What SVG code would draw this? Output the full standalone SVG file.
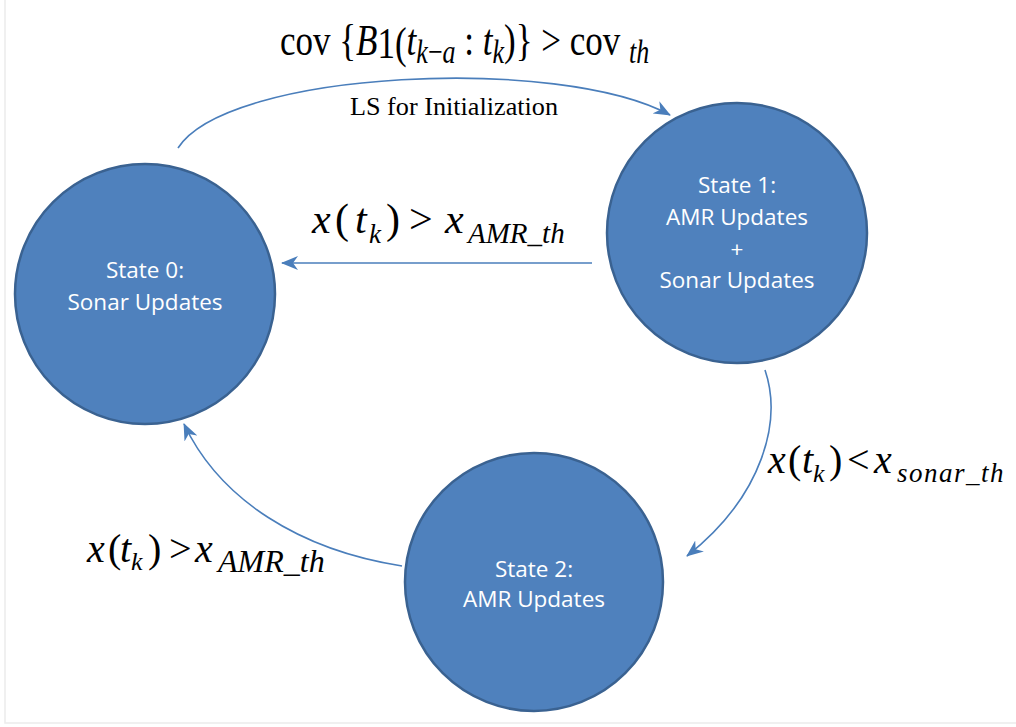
<svg xmlns="http://www.w3.org/2000/svg" width="1016" height="727" viewBox="0 0 1016 727">
<style>
.state{fill:#4F81BD;stroke:#3A6291;stroke-width:2.5}
.lbl{font-family:"Open Sans","Liberation Sans",sans-serif;font-size:22.5px;fill:#ffffff;text-anchor:middle}
.conn{fill:none;stroke:#4A7EBB;stroke-width:1.6}
.m{font-family:"Liberation Serif","Times New Roman",serif;fill:#000000}
.i{font-style:italic}
.frame{stroke:#ececec;stroke-width:1.5;fill:none}
</style>
<defs>
<marker id="arr" markerUnits="userSpaceOnUse" markerWidth="18" markerHeight="14" viewBox="0 0 18 14" refX="16" refY="7" orient="auto">
<path d="M0,0 L17,7 L0,14 L5,7 z" fill="#4A7EBB"/>
</marker>
</defs>
<rect width="1016" height="727" fill="#ffffff"/>
<path class="frame" d="M5,0 L5,723 L1016,723"/>

<g id="connectors">
<path class="conn" d="M178,148 C228,70 560,55 670,115" marker-end="url(#arr)"/>
<path class="conn" d="M592,263 L282,263" marker-end="url(#arr)"/>
<path class="conn" d="M765,370 C782,420 764,495 687,556" marker-end="url(#arr)"/>
<path class="conn" d="M402,566 C300,550 220,500 184,424" marker-end="url(#arr)"/>
</g>

<g id="state0">
<circle class="state" cx="145" cy="294" r="130"/>
<text class="lbl" x="145" y="278">State 0:</text>
<text class="lbl" x="145" y="310">Sonar Updates</text>
</g>
<g id="state1">
<circle class="state" cx="737" cy="233" r="130"/>
<text class="lbl" x="737" y="193">State 1:</text>
<text class="lbl" x="737" y="225">AMR Updates</text>
<text class="lbl" x="737" y="257">+</text>
<text class="lbl" x="737" y="288">Sonar Updates</text>
</g>
<g id="state2">
<circle class="state" cx="534" cy="582" r="129"/>
<text class="lbl" x="534" y="577">State 2:</text>
<text class="lbl" x="534" y="607">AMR Updates</text>
</g>

<g id="label-top">
<text class="m" font-size="35" transform="translate(280,55) scale(1,1.28)"><tspan x="0" y="0">cov {</tspan><tspan class="i">B</tspan><tspan dy="2">1(</tspan><tspan class="i" dy="-2">t</tspan><tspan class="i" font-size="26" dy="6.4">k</tspan><tspan font-size="26">−</tspan><tspan class="i" font-size="26">a</tspan><tspan dy="-6.4"> : </tspan><tspan class="i">t</tspan><tspan class="i" font-size="26" dy="6.4">k</tspan><tspan dy="-6.4">)} &gt; cov </tspan><tspan class="i" font-size="26" dy="6.4">th</tspan></text>
<text class="m" x="350" y="115" font-size="25" textLength="208" lengthAdjust="spacingAndGlyphs">LS for Initialization</text>
</g>

<g id="label-left">
<text class="m" font-size="42"><tspan class="i" x="312" y="233">x</tspan><tspan x="335" y="233">(</tspan><tspan class="i" x="355" y="233">t</tspan><tspan class="i" x="369" y="243" font-size="27">k</tspan><tspan x="386" y="233">)</tspan><tspan x="409" y="233">&gt;</tspan><tspan class="i" x="445" y="233">x</tspan><tspan class="i" x="468" y="243" font-size="29">AMR_th</tspan></text>
</g>

<g id="label-right">
<text class="m" font-size="40"><tspan class="i" x="768" y="473">x</tspan><tspan x="788" y="473">(</tspan><tspan class="i" x="802" y="473">t</tspan><tspan class="i" x="813" y="482" font-size="26">k</tspan><tspan x="829" y="473">)</tspan><tspan x="847" y="473">&lt;</tspan><tspan class="i" x="874" y="473">x</tspan><tspan class="i" x="897" y="482" font-size="27" letter-spacing="1.5">sonar_th</tspan></text>
</g>

<g id="label-bottom">
<text class="m" font-size="40"><tspan class="i" x="87" y="562">x</tspan><tspan x="108" y="562">(</tspan><tspan class="i" x="120" y="562">t</tspan><tspan class="i" x="131" y="570" font-size="26">k</tspan><tspan x="148" y="562">)</tspan><tspan x="169" y="562">&gt;</tspan><tspan class="i" x="195" y="562">x</tspan><tspan class="i" x="218" y="572" font-size="32">AMR_th</tspan></text>
</g>
</svg>
